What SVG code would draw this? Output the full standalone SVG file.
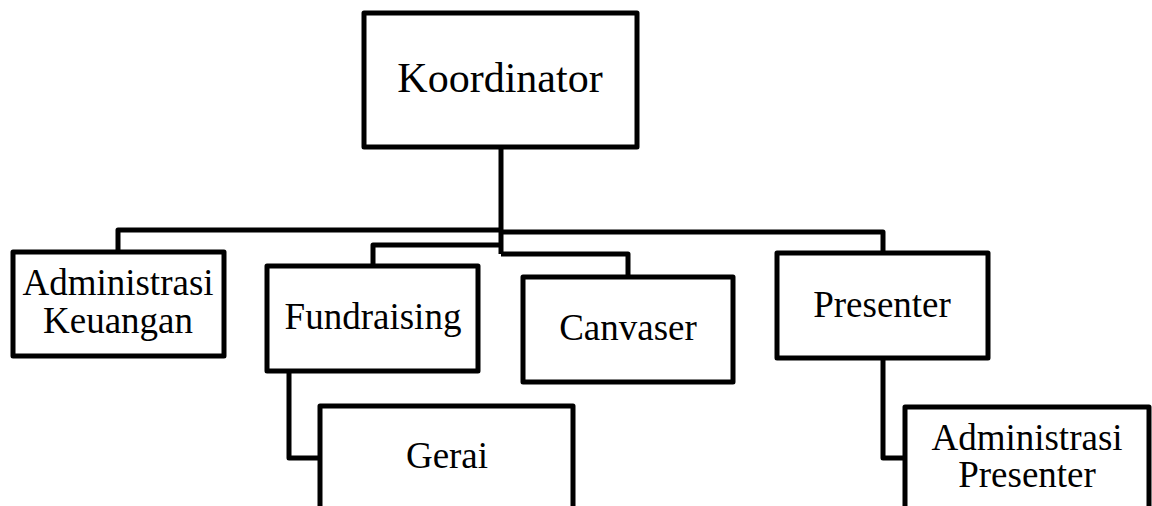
<svg xmlns="http://www.w3.org/2000/svg" width="1152" height="506" viewBox="0 0 1152 506">
<style>
rect.box{fill:#fff;stroke:#000;stroke-width:5;stroke-linejoin:round}
.conn path{fill:none;stroke:#000;stroke-width:5;stroke-linejoin:round}
text{font-family:"Liberation Serif","Times New Roman",serif;fill:#000;text-anchor:middle}
</style>
<rect x="0" y="0" width="1152" height="506" fill="#fff"/>
<g class="conn">
<path d="M501 147 V254"/>
<path d="M118 252 V230 H501"/>
<path d="M501 232 H883 V253"/>
<path d="M501 245 H373 V266"/>
<path d="M501 254 H628 V277"/>
<path d="M289 371 V458 H320"/>
<path d="M883 358 V458 H905"/>
</g>
<g id="koordinator"><rect class="box" x="364" y="13" width="273" height="134"/><text x="500" y="92" font-size="42">Koordinator</text></g>
<g id="admin-keuangan"><rect class="box" x="13" y="252" width="211" height="104"/><text x="118" y="295" font-size="37">Administrasi</text><text x="118" y="333" font-size="37">Keuangan</text></g>
<g id="fundraising"><rect class="box" x="267" y="266" width="211" height="105"/><text x="373" y="329" font-size="37">Fundraising</text></g>
<g id="canvaser"><rect class="box" x="523" y="277" width="210" height="105"/><text x="628" y="340" font-size="37">Canvaser</text></g>
<g id="presenter"><rect class="box" x="777" y="253" width="211" height="105"/><text x="882" y="317" font-size="37">Presenter</text></g>
<g id="gerai"><rect class="box" x="320" y="406" width="253" height="120"/><text x="447" y="468" font-size="37">Gerai</text></g>
<g id="admin-presenter"><rect class="box" x="905" y="407" width="244" height="120"/><text x="1027" y="450" font-size="37">Administrasi</text><text x="1027" y="487" font-size="37">Presenter</text></g>
</svg>
